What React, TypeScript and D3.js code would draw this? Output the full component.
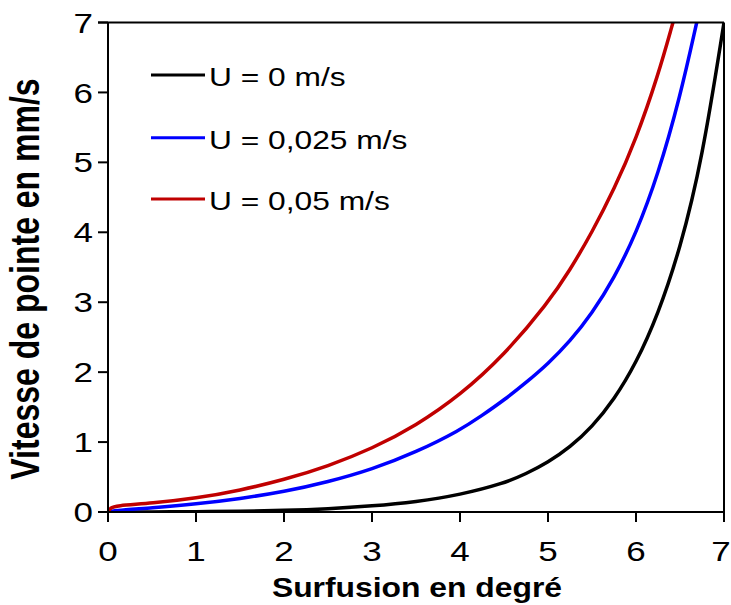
import React from "react";
import * as d3 from "d3";

const xTicks = [0, 1, 2, 3, 4, 5, 6, 7];
const yTicks = [0, 1, 2, 3, 4, 5, 6, 7];

const blackX = [0, 0.5, 1, 1.5, 2, 2.5, 3, 3.5, 4, 4.5, 4.75, 5, 5.25, 5.5, 5.75, 6.0, 6.25, 6.5, 6.75, 7.0];
const blackY = [0, 0.001, 0.004, 0.01, 0.022, 0.045, 0.085, 0.145, 0.245, 0.41, 0.545, 0.71, 0.925, 1.215, 1.605, 2.125, 2.825, 3.755, 5.025, 7.0];

const blueX = [0, 0.05, 0.5, 1, 1.5, 2, 2.5, 3, 3.5, 4, 4.25, 4.5, 4.75, 5, 5.25, 5.5, 5.75, 6.0, 6.25, 6.5, 6.69];
const blueY = [0, 0.02, 0.06, 0.114, 0.19, 0.29, 0.43, 0.61, 0.855, 1.17, 1.38, 1.6, 1.85, 2.12, 2.44, 2.84, 3.34, 3.98, 4.82, 5.93, 7.0];

const redX = [0, 0.03, 0.08, 0.5, 1, 1.5, 2, 2.5, 3, 3.5, 4, 4.5, 5, 5.25, 5.5, 5.75, 6.0, 6.25, 6.42];
const redY = [0, 0.06, 0.09, 0.125, 0.195, 0.31, 0.46, 0.655, 0.905, 1.235, 1.67, 2.24, 2.99, 3.46, 4.0, 4.61, 5.33, 6.24, 7.0];

const seriesNames = ["U = 0 m/s", "U = 0,025 m/s", "U = 0,05 m/s"];
const seriesColors = ["#000000", "#0000ff", "#c00000"];

const xTitle = "Surfusion en degré";
const yTitle = "Vitesse de pointe en mm/s";

export default function App() {
  const W = 731, H = 605;
  const left = 108, right = 724, top = 22.5, bottom = 512;
  const sx = 1.25;
  const x = d3.scaleLinear().domain([0, 7]).range([left, right]);
  const y = d3.scaleLinear().domain([0, 7]).range([bottom, top]);
  const line = d3
    .line<[number, number]>()
    .x((d) => x(d[0]))
    .y((d) => y(d[1]))
    .curve(d3.curveBasis);
  const series = [
    { xs: blackX, ys: blackY },
    { xs: blueX, ys: blueY },
    { xs: redX, ys: redY },
  ];
  const font = "'Liberation Sans', Arial, sans-serif";
  const legendY = [75, 137.7, 199];
  return (
    <svg width={W} height={H} style={{ position: "absolute", left: 0, top: 0 }} fontFamily={font}>
      <rect x={0} y={0} width={W} height={H} fill="#fff" />
      <defs>
        <clipPath id="plot">
          <rect x={left} y={top} width={right - left} height={bottom - top} />
        </clipPath>
      </defs>
      <g clipPath="url(#plot)">
        {series.map((s, i) => (
          <path
            key={i}
            d={line(s.xs.map((v, j) => [v, s.ys[j]] as [number, number])) || ""}
            fill="none"
            stroke={seriesColors[i]}
            strokeWidth={3.5}
          />
        ))}
      </g>
      <line x1={left - 10} x2={right} y1={top} y2={top} stroke="#000" strokeWidth={2} />
      <line x1={right} x2={right} y1={top} y2={bottom + 10} stroke="#000" strokeWidth={2} />
      <line x1={left} x2={left} y1={top} y2={bottom} stroke="#000" strokeWidth={2} />
      <line x1={left} x2={right} y1={bottom} y2={bottom} stroke="#000" strokeWidth={2} />
      {yTicks.map((t) => (
        <g key={"y" + t}>
          <line x1={left - 10} x2={left} y1={y(t)} y2={y(t)} stroke="#000" strokeWidth={2} />
          <text
            transform={`translate(${left - 15}, ${y(t)}) scale(${sx}, 1)`}
            dy="0.36em"
            textAnchor="end"
            fontSize={28}
          >
            {t}
          </text>
        </g>
      ))}
      {xTicks.map((t) => (
        <g key={"x" + t}>
          <line x1={x(t)} x2={x(t)} y1={bottom} y2={bottom + 10} stroke="#000" strokeWidth={2} />
          <text
            transform={`translate(${Math.min(x(t), W - 10)}, 561) scale(${sx}, 1)`}
            textAnchor="middle"
            fontSize={28}
          >
            {t}
          </text>
        </g>
      ))}
      <text
        transform={`translate(${(left + right) / 2 + 1}, 597) scale(1.18, 1)`}
        textAnchor="middle"
        fontSize={27}
        fontWeight="bold"
      >
        {xTitle}
      </text>
      <text
        transform={`translate(38.5, 279) scale(${sx}, 1) rotate(-90)`}
        textAnchor="middle"
        fontSize={32}
        fontWeight="bold"
      >
        {yTitle}
      </text>
      {seriesNames.map((n, i) => (
        <g key={n}>
          <line x1={151} x2={205} y1={legendY[i]} y2={legendY[i]} stroke={seriesColors[i]} strokeWidth={3} />
          <text
            transform={`translate(209, ${legendY[i] + 2}) scale(1.27, 1)`}
            dy="0.36em"
            fontSize={25}
          >
            {n}
          </text>
        </g>
      ))}
    </svg>
  );
}
